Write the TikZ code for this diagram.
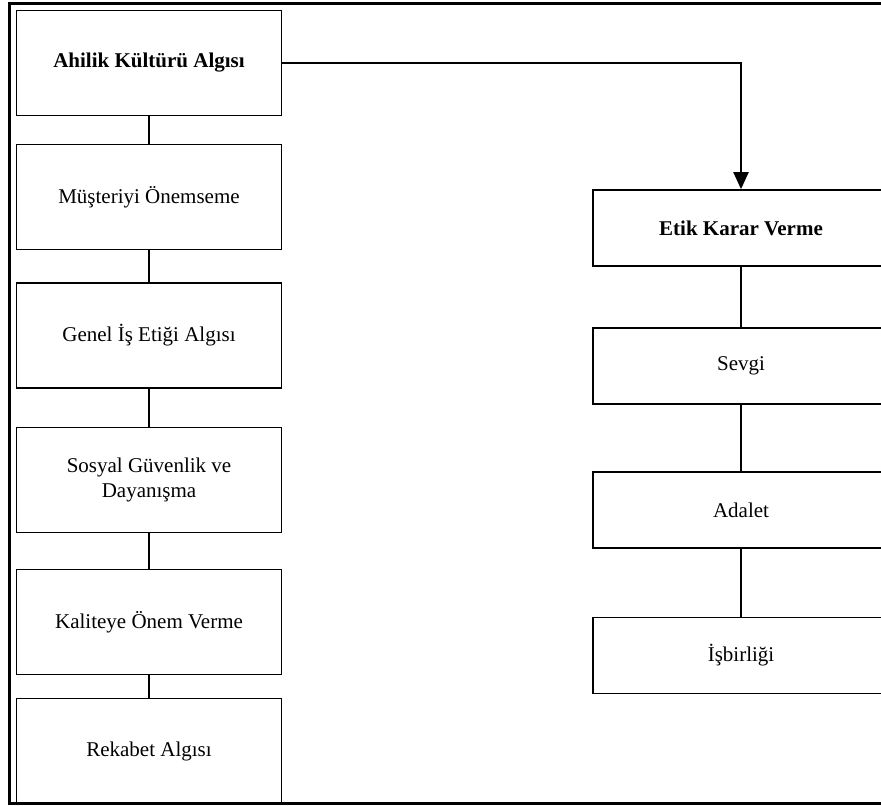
\documentclass[tikz,border=0pt]{standalone}
\usepackage{fontspec}
\setmainfont{Liberation Serif}
\usepackage{tikz}
\usetikzlibrary{arrows.meta, positioning}

\begin{document}
\begin{tikzpicture}[
    x=0.5pt, y=-0.5pt,
    every node/.style={font=\fontsize{10.5}{12.2}\selectfont},
    leftbox/.style={rectangle, draw=black, line width=0.85pt, minimum width=132.5pt, minimum height=52.5pt, align=center},
    rightbox/.style={rectangle, draw=black, line width=0.85pt, minimum width=148pt, minimum height=38pt, align=center},
    frame/.style={draw=black, line width=1.5pt},
    link/.style={line width=0.75pt},
    arrow/.style={-{Triangle[length=8.5pt, width=7.5pt]}, line width=1.1pt}
]
\useasboundingbox (0,0) rectangle (881,806);

% Outer frame
\draw[frame] (9,4) rectangle (886,803);

% Ahilik culture (left column)
\node[leftbox] (ahilik) at (149,63) {\textbf{Ahilik Kültürü Algısı}};
\node[leftbox] (musteri) at (149,197) {Müşteriyi Önemseme};
\node[leftbox] (genel) at (149,335.5) {Genel İş Etiği Algısı};
\node[leftbox] (sosyal) at (149,480) {Sosyal Güvenlik ve\\Dayanışma};
\node[leftbox] (kalite) at (149,622) {Kaliteye Önem Verme};
\node[leftbox] (rekabet) at (149,751) {Rekabet Algısı};

% Ethical decision making (right column)
\node[rightbox] (etik) at (741,228) {\textbf{Etik Karar Verme}};
\node[rightbox] (sevgi) at (741,366) {Sevgi};
\node[rightbox] (adalet) at (741,510) {Adalet};
\node[rightbox] (isbirligi) at (741,655.5) {İşbirliği};

% Links
\draw[link] (ahilik) -- (musteri);
\draw[link] (musteri) -- (genel);
\draw[link] (genel) -- (sosyal);
\draw[link] (sosyal) -- (kalite);
\draw[link] (kalite) -- (rekabet);
\draw[link] (etik) -- (sevgi);
\draw[link] (sevgi) -- (adalet);
\draw[link] (adalet) -- (isbirligi);

% Main arrow
\draw[arrow] (ahilik.east) -| (etik.north);

\end{tikzpicture}
\end{document}
